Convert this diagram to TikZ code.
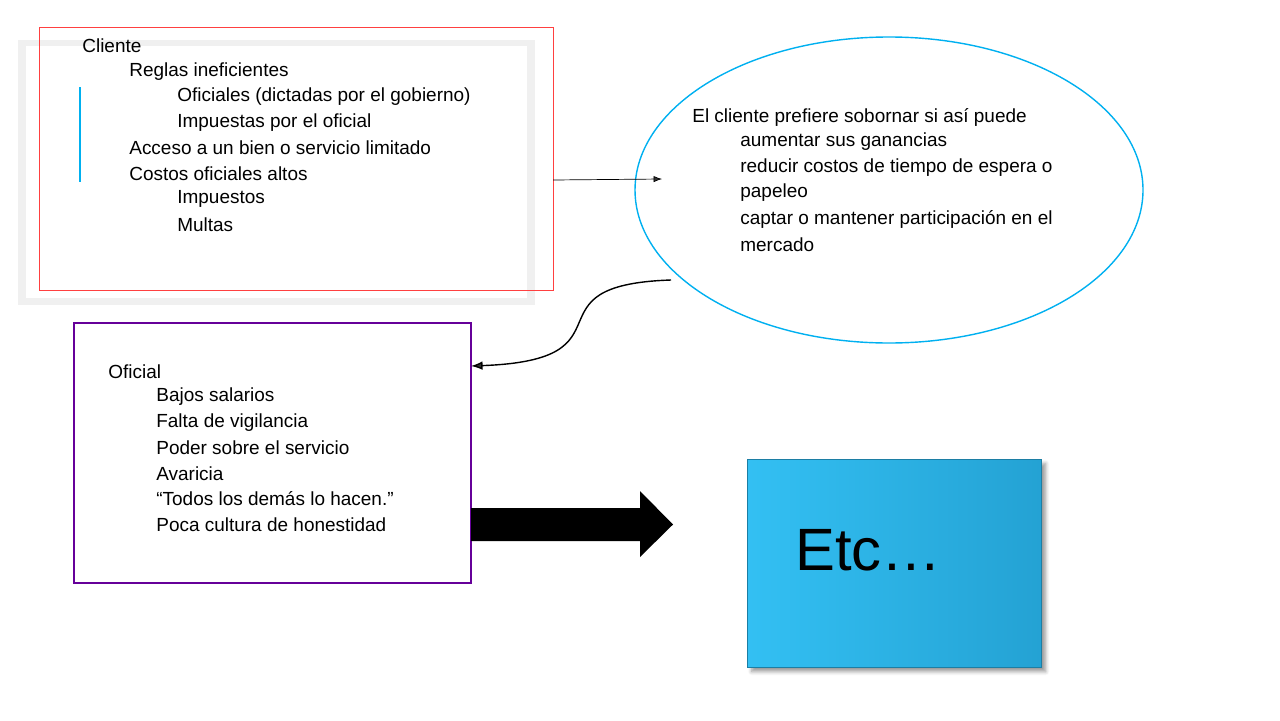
\documentclass[tikz,border=0pt]{standalone}
\usepackage{fontspec}
\setmainfont{Liberation Sans}
\usetikzlibrary{arrows.meta,shadows.blur}
\definecolor{sky}{RGB}{0,176,240}
\definecolor{boxblue}{RGB}{40,180,235}
\begin{document}
\begin{tikzpicture}[x=0.02cm,y=-0.02cm,>=Latex]
  % styles
  \tikzset{txt/.style={anchor=west, inner sep=0pt, font=\fontsize{10.8}{13}\selectfont}}
  \useasboundingbox (0,0) rectangle (1280,720);

  % Cliente box
  \fill[black!6] (18,40) rectangle (535,305);
  \fill[white] (26,46) rectangle (527,298);
  \draw[red!75] (39,27) rectangle (553,290);
  \coordinate (cliente out) at (553,180);
  \draw[sky, thick] (80,87) -- (80,182);
  \node[txt] (c0) at (82,46) {Cliente};
  \node[txt] (c1) at (129,71.5) {Reglas ineficientes};
  \node[txt] (c2) at (177,97) {Oficiales (dictadas por el gobierno)};
  \node[txt] (c3) at (177,122.5) {Impuestas por el oficial};
  \node[txt] (c4) at (129,148) {Acceso a un bien o servicio limitado};
  \node[txt] (c5) at (129,173.5) {Costos oficiales altos};
  \node[txt] (c6) at (177,199) {Impuestos};
  \node[txt] (c7) at (177,224.5) {Multas};

  % Ellipse
  \draw[sky, thick] (889,190) ellipse [x radius=254, y radius=153];
  \coordinate (elipse in) at (662,179);
  \coordinate (elipse out) at (671,280);
  \node[txt] (e0) at (692,117) {El cliente prefiere sobornar si así puede};
  \node[txt] (e1) at (740,142) {aumentar sus ganancias};
  \node[txt] (e2) at (740,168) {reducir costos de tiempo de espera o};
  \node[txt] (e3) at (740,193) {papeleo};
  \node[txt] (e4) at (740,219) {captar o mantener participación en el};
  \node[txt] (e5) at (740,245) {mercado};

  % Oficial box
  \draw[violet!80!blue, thick] (74,323) rectangle (471,583);
  \coordinate (oficial in) at (471,366);
  \node[txt] (o0) at (108,372) {Oficial};
  \node[txt] (o1) at (156,397) {Bajos salarios};
  \node[txt] (o2) at (156,422.5) {Falta de vigilancia};
  \node[txt] (o3) at (156,448) {Poder sobre el servicio};
  \node[txt] (o4) at (156,473.5) {Avaricia};
  \node[txt] (o5) at (156,499) {“Todos los demás lo hacen.”};
  \node[txt] (o6) at (156,524.5) {Poca cultura de honestidad};

  % Etc box
  \shade[left color=sky!80!white, right color=boxblue!90!black, draw=boxblue!70!black, blur shadow={shadow blur steps=5}]
    (747,459) rectangle (1041,667);
  \node[anchor=west, inner sep=0pt, font=\fontsize{34}{40}\selectfont] (etc) at (795,550) {Etc…};

  % Connectors
  \draw[->] (cliente out) -- (elipse in);
  \draw[->, thick] (elipse out) .. controls (520,285) and (640,360) .. (oficial in);
  \fill (471,508) -- (640,508) -- (640,491) -- (673,524.5) -- (640,557) -- (640,541) -- (471,541) -- cycle;
\end{tikzpicture}
\end{document}
